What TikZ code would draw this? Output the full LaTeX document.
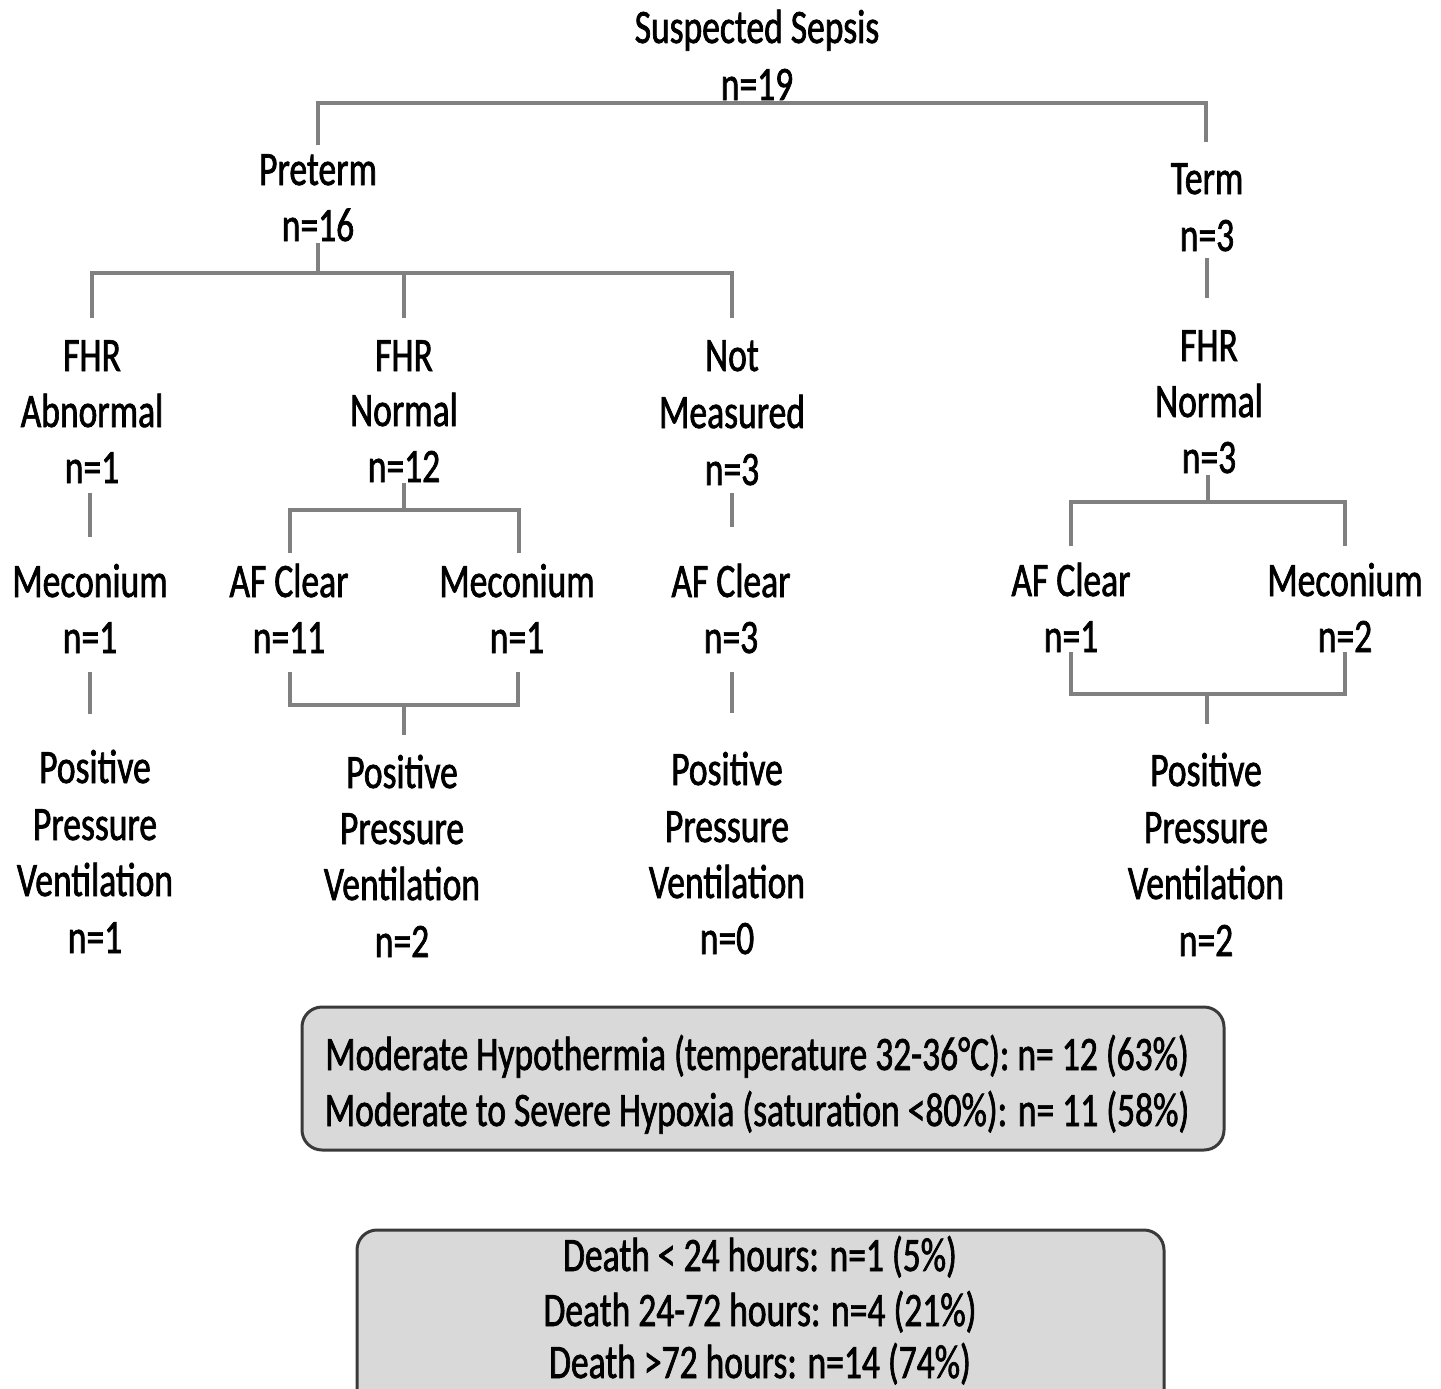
\documentclass[tikz,border=0pt]{standalone}
\usepackage{fontspec}
\setmainfont{Carlito}[FakeStretch=0.74,FakeBold=1.4]
\usetikzlibrary{calc}
\definecolor{linegray}{HTML}{808080}
\definecolor{boxfill}{HTML}{D9D9D9}
\definecolor{boxdraw}{HTML}{3A3A3A}
\begin{document}
\begin{tikzpicture}[x=1pt,y=-1pt,
  lbl/.style={anchor=base,inner sep=0pt,font=\fontsize{48}{56}\selectfont},
  conn/.style={draw=linegray,line width=4pt},
  infobox/.style={draw=boxdraw,fill=boxfill,line width=3pt,rounded corners=20pt}]
\clip (0,0) rectangle (1441,1389);
\useasboundingbox (0,0) rectangle (1441,1389);
% ---- texts (baselines)
\node[lbl] (ss1) at (757,43) {Suspected Sepsis};
\node[lbl] (ss2) at (757,100) {n=19};
\node[lbl] (pt1) at (318,185) {Preterm};
\node[lbl] (pt2) at (318,241) {n=16};
\node[lbl] (tm1) at (1207,194) {Term};
\node[lbl] (tm2) at (1207,251) {n=3};
% preterm branches
\node[lbl] (fa1) at (92,371) {FHR};
\node[lbl] (fa2) at (92,427) {Abnormal};
\node[lbl] (fa3) at (92,483) {n=1};
\node[lbl] (fn1) at (404,371) {FHR};
\node[lbl] (fn2) at (404,426) {Normal};
\node[lbl] (fn3) at (404,482) {n=12};
\node[lbl] (nm1) at (732,371) {Not};
\node[lbl] (nm2) at (732,428) {Measured};
\node[lbl] (nm3) at (732,485) {n=3};
% term branch
\node[lbl] (tf1) at (1209,361) {FHR};
\node[lbl] (tf2) at (1209,417) {Normal};
\node[lbl] (tf3) at (1209,473) {n=3};
% level AF
\node[lbl] (am1) at (90,597) {Meconium};
\node[lbl] (am2) at (90,653) {n=1};
\node[lbl] (ac1) at (289,597) {AF Clear};
\node[lbl] (ac2) at (289,653) {n=11};
\node[lbl] (bm1) at (517,597) {Meconium};
\node[lbl] (bm2) at (517,653) {n=1};
\node[lbl] (cc1) at (731,597) {AF Clear};
\node[lbl] (cc2) at (731,653) {n=3};
\node[lbl] (dc1) at (1071,596) {AF Clear};
\node[lbl] (dc2) at (1071,652) {n=1};
\node[lbl] (dm1) at (1345,596) {Meconium};
\node[lbl] (dm2) at (1345,652) {n=2};
% PPV
\node[lbl] (pa1) at (95,783) {Positive};
\node[lbl] (pa2) at (95,840) {Pressure};
\node[lbl] (pa3) at (95,896) {Ventilation};
\node[lbl] (pa4) at (95,953) {n=1};
\node[lbl] (pb1) at (402,788) {Positive};
\node[lbl] (pb2) at (402,844) {Pressure};
\node[lbl] (pb3) at (402,900) {Ventilation};
\node[lbl] (pb4) at (402,957) {n=2};
\node[lbl] (pc1) at (727,785) {Positive};
\node[lbl] (pc2) at (727,842) {Pressure};
\node[lbl] (pc3) at (727,898) {Ventilation};
\node[lbl] (pc4) at (727,954) {n=0};
\node[lbl] (pd1) at (1206,786) {Positive};
\node[lbl] (pd2) at (1206,843) {Pressure};
\node[lbl] (pd3) at (1206,899) {Ventilation};
\node[lbl] (pd4) at (1206,956) {n=2};
% ---- connector points
\coordinate (t0) at (318,145); \coordinate (t1) at (318,103);
\coordinate (t2) at (1206,103); \coordinate (t3) at (1206,142);
\coordinate (p0) at (318,243); \coordinate (p1) at (318,273);
\coordinate (pl) at (92,273); \coordinate (pl2) at (92,318);
\coordinate (pm) at (404,273); \coordinate (pm2) at (404,318);
\coordinate (pr) at (732,273); \coordinate (pr2) at (732,318);
\coordinate (tt0) at (1207,258); \coordinate (tt1) at (1207,298);
% FHR abnormal chain
\coordinate (a0) at (90,493); \coordinate (a1) at (90,537);
\coordinate (a2) at (90,672); \coordinate (a3) at (90,714);
% FHR normal brackets
\coordinate (b0) at (404,483); \coordinate (b1) at (404,510);
\coordinate (bl) at (290,510); \coordinate (bl2) at (290,553);
\coordinate (br) at (519,510); \coordinate (br2) at (519,553);
\coordinate (bl3) at (290,672); \coordinate (bl4) at (290,705);
\coordinate (br3) at (518,672); \coordinate (br4) at (518,705);
\coordinate (bc) at (404,705); \coordinate (bc2) at (404,735);
% not measured chain
\coordinate (c0) at (732,493); \coordinate (c1) at (732,527);
\coordinate (c2) at (732,672); \coordinate (c3) at (732,713);
% term brackets
\coordinate (d0) at (1208,475); \coordinate (d1) at (1208,502);
\coordinate (dl) at (1071,502); \coordinate (dl2) at (1071,546);
\coordinate (dr) at (1345,502); \coordinate (dr2) at (1345,546);
\coordinate (dl3) at (1071,652); \coordinate (dl4) at (1071,694);
\coordinate (dr3) at (1345,652); \coordinate (dr4) at (1345,694);
\coordinate (dc) at (1207,694); \coordinate (dcx) at (1207,724);
% ---- connectors
\draw[conn] (t0) -- (t1) -- (t2) -- (t3);
\draw[conn] (p0) -- (p1);
\draw[conn] (pl2) -- (pl) -- (pr) -- (pr2);
\draw[conn] (pm) -- (pm2);
\draw[conn] (tt0) -- (tt1);
\draw[conn] (a0) -- (a1);
\draw[conn] (a2) -- (a3);
\draw[conn] (b0) -- (b1);
\draw[conn] (bl2) -- (bl) -- (br) -- (br2);
\draw[conn] (bl3) -- (bl4) -- (br4) -- (br3);
\draw[conn] (bc) -- (bc2);
\draw[conn] (c0) -- (c1);
\draw[conn] (c2) -- (c3);
\draw[conn] (d0) -- (d1);
\draw[conn] (dl2) -- (dl) -- (dr) -- (dr2);
\draw[conn] (dl3) -- (dl4) -- (dr4) -- (dr3);
\draw[conn] (dc) -- (dcx);
% ---- boxes
\path[infobox] (302,1007) rectangle (1224,1150);
\node[lbl] (h1) at (757,1070) {Moderate Hypothermia (temperature 32-36°C): n= 12 (63\%)};
\node[lbl] (h2) at (757,1126) {Moderate to Severe Hypoxia (saturation <80\%): n= 11 (58\%)};
\path[infobox] (357,1230) rectangle (1164,1420);
\node[lbl] (m1) at (760,1271) {Death < 24 hours: n=1 (5\%)};
\node[lbl] (m2) at (760,1326) {Death 24-72 hours: n=4 (21\%)};
\node[lbl] (m3) at (760,1378) {Death >72 hours: n=14 (74\%)};
\end{tikzpicture}
\end{document}
